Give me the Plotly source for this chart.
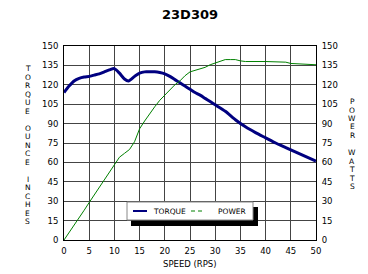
import plotly.graph_objects as go

title_text = "23D309"
x_title = "SPEED (RPS)"
left_title = "TORQUE OUNCE INCHES"
right_title = "POWER WATTS"

torque_speed = [0, 1, 2, 3, 4, 5, 6, 7, 8, 9, 10, 11, 12, 12.8, 14, 15, 16, 17, 18, 19, 20, 21,
                22, 23, 24, 25, 26, 27, 28, 29, 30, 32, 34, 36, 38, 40, 42, 44, 46, 48, 50]
torque_vals = [114, 119, 123, 125, 126, 126.5, 127.5, 128.5, 130, 131.5, 132.5, 129, 124.5, 123,
               126.5, 129, 130, 130, 130, 129.5, 128.5, 126.5, 124, 121.5, 119, 116.5, 114, 112,
               109.5, 107, 104.5, 99.5, 93, 87.5, 83, 79, 75, 71.5, 68, 64.5, 61]

power_speed = [0, 2, 4, 5, 6, 8, 10, 11, 12, 13, 14, 15, 16, 17, 18, 19, 20, 21, 22, 23, 24, 25,
               26, 27, 28, 29, 30, 31, 32, 33, 34, 35, 36, 40, 44, 45, 47, 50]
power_vals = [0, 11, 23, 29, 35, 47, 59, 64, 67, 70, 76, 86, 92, 98, 103, 108, 112, 116.5, 120,
              123, 127, 130, 131, 132, 133.5, 135.5, 137, 138.5, 139.5, 139.5, 139.5, 138.5, 138,
              138, 137.5, 136.5, 136, 135.5]

tick_vals_x = list(range(0, 51, 5))
tick_vals_y = list(range(0, 151, 15))

W, H = 368, 274
L, R, T, B = 64, 52, 46, 34
pw, ph = W - L - R, H - T - B

def px_x(px):
    return (px - L) / pw

def px_y(py):
    return (H - B - py) / ph

FONT = "DejaVu Sans"
TORQUE_COLOR = "#000080"
POWER_COLOR = "#008000"
GRID = "#444444"

fig = go.Figure()
fig.add_trace(go.Scatter(x=torque_speed, y=torque_vals, mode="lines", name="TORQUE",
                         line=dict(color=TORQUE_COLOR, width=3, shape="spline", smoothing=0.6),
                         showlegend=False))
fig.add_trace(go.Scatter(x=power_speed, y=power_vals, mode="lines", name="POWER", yaxis="y2",
                         line=dict(color=POWER_COLOR, width=1), showlegend=False))

annotations = []
# title
annotations.append(dict(text="<b>%s</b>" % title_text, xref="paper", yref="paper",
                        x=0.5, y=px_y(15), xanchor="center", yanchor="middle", showarrow=False,
                        font=dict(family=FONT, size=13, color="black")))
# x axis title
annotations.append(dict(text=x_title, xref="paper", yref="paper",
                        x=0.5, y=px_y(264), xanchor="center", yanchor="middle", showarrow=False,
                        font=dict(family=FONT, size=8.5, color="black")))
# stacked axis titles
for i, ch in enumerate(left_title):
    if ch != " ":
        annotations.append(dict(text=ch, xref="paper", yref="paper", x=px_x(27.5),
                                y=px_y(68.5 + i * 8.5), xanchor="center", yanchor="middle",
                                showarrow=False, font=dict(family=FONT, size=7.5, color="black")))
for i, ch in enumerate(right_title):
    if ch != " ":
        annotations.append(dict(text=ch, xref="paper", yref="paper", x=px_x(352),
                                y=px_y(101.5 + i * 8.5), xanchor="center", yanchor="middle",
                                showarrow=False, font=dict(family=FONT, size=7.5, color="black")))

# custom legend
lg_x0, lg_x1, lg_y0, lg_y1 = 127, 253, 202, 220
shapes = [
    dict(type="rect", xref="paper", yref="paper", x0=px_x(lg_x0 + 4), x1=px_x(lg_x1 + 5),
         y0=px_y(lg_y0 + 5), y1=px_y(lg_y1 + 6), fillcolor="black", line=dict(width=0),
         layer="above"),
    dict(type="rect", xref="paper", yref="paper", x0=px_x(lg_x0), x1=px_x(lg_x1),
         y0=px_y(lg_y0), y1=px_y(lg_y1), fillcolor="white", line=dict(color="#888888", width=1),
         layer="above"),
    dict(type="line", xref="paper", yref="paper", x0=px_x(133), x1=px_x(147),
         y0=px_y(211), y1=px_y(211), line=dict(color=TORQUE_COLOR, width=2), layer="above"),
    dict(type="line", xref="paper", yref="paper", x0=px_x(191), x1=px_x(205),
         y0=px_y(211), y1=px_y(211), line=dict(color=POWER_COLOR, width=1, dash="4px,3px"),
         layer="above"),
]
annotations.append(dict(text="TORQUE", xref="paper", yref="paper", x=px_x(151), y=px_y(211),
                        xanchor="left", yanchor="middle", showarrow=False,
                        font=dict(family=FONT, size=7.5, color="black")))
annotations.append(dict(text="POWER", xref="paper", yref="paper", x=px_x(216), y=px_y(211),
                        xanchor="left", yanchor="middle", showarrow=False,
                        font=dict(family=FONT, size=7.5, color="black")))

axis_common = dict(showline=True, linecolor="black", linewidth=1, ticks="", automargin=False,
                   tickfont=dict(family=FONT, size=8.5, color="black"), zeroline=False)

fig.update_layout(
    width=W, height=H,
    margin=dict(l=L, r=R, t=T, b=B, pad=0),
    paper_bgcolor="white", plot_bgcolor="white",
    showlegend=False,
    xaxis=dict(range=[0, 50], tickvals=tick_vals_x, showgrid=True, gridcolor=GRID, gridwidth=1,
               mirror=True, ticklabelstandoff=3, **axis_common),
    yaxis=dict(range=[0, 150], tickvals=tick_vals_y, showgrid=True, gridcolor=GRID, gridwidth=1,
               ticklabelstandoff=3, **axis_common),
    yaxis2=dict(range=[0, 150], tickvals=tick_vals_y, overlaying="y", side="right",
                showgrid=False, ticklabelstandoff=3, **axis_common),
    annotations=annotations,
    shapes=shapes,
)

fig.write_html("out.html", config={"displayModeBar": False},
               post_script="document.body.style.margin='0';document.body.style.overflow='hidden';")
